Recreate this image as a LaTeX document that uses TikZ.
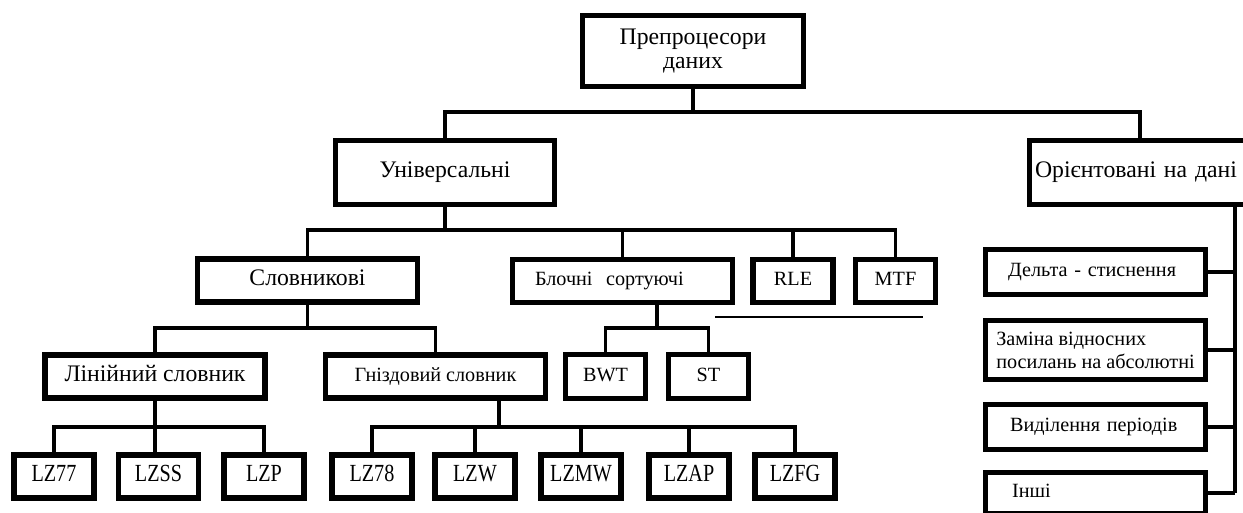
\documentclass[tikz,border=0pt]{standalone}
\usepackage{fontspec}
\setmainfont{Liberation Serif}
\newfontfamily\narrowserif{Liberation Serif}[FakeStretch=0.82]
\tikzset{
  frame/.style={draw, line width=3pt, fill=white, minimum width=4.4cm,
    minimum height=0.86cm, font=\fontsize{11.5}{13}\selectfont},
  block/.style={frame, text height=1.6ex, text depth=0.4ex},
  big/.style={font=\fontsize{13.5}{13.6}\selectfont},
  small/.style={block, minimum width=1.6cm},
  algo/.style={small, font=\narrowserif\fontsize{14}{15}\selectfont},
  side/.style={block, minimum height=0.9cm, text width=3.5cm, align=left},
  link/.style={line width=1.8pt},
  thinline/.style={line width=0.8pt},
}
\begin{document}
\begin{tikzpicture}[x=0.02cm, y=-0.02cm]
	\clip (0,0) rectangle (1243,513);
	
	\node[frame, big, align=center, minimum width=4.42cm, minimum height=1.42cm] (prep) at (693,51) {Препроцесори\\даних};
	\node[block, big, minimum width=4.38cm, minimum height=1.28cm] (univ) at (445,172.5) {Універсальні};
	\node[block, big, minimum width=4.42cm, minimum height=1.28cm, text width=4.2cm, align=left] (orient) at (1140,172.5) {Орієнтовані на дані};
	
	\node[block, big] (slov) at (307.5,280.5) {Словникові};
	\node[block, text width=3.5cm, align=left] (bloch) at (622.5,281) {Блочні\ \ сортуючі};
	\node[small] (rle) at (793,281) {RLE};
	\node[small] (mtf) at (895.5,281) {MTF};
	
	\node[block, big] (lin) at (155,376.5) {Лінійний словник};
	\node[block] (gniz) at (435.5,376.5) {Гніздовий словник};
	\node[small, minimum height=0.88cm] (bwt) at (605.5,376.5) {BWT};
	\node[small, minimum height=0.88cm] (st) at (708.5,376.5) {ST};
	
	\node[algo] (lz77) at (54,476.5) {LZ77};
	\node[algo] (lzss) at (158.5,476.5) {LZSS};
	\node[algo] (lzp) at (264,476.5) {LZP};
	\node[algo] (lz78) at (372,476.5) {LZ78};
	\node[algo] (lzw) at (475,476.5) {LZW};
	\node[algo] (lzmw) at (581,476.5) {LZMW};
	\node[algo] (lzap) at (689,476.5) {LZAP};
	\node[algo] (lzfg) at (795,476.5) {LZFG};
	
	\node[side] (delta) at (1095.5,272) {Дельта - стиснення};
	\node[frame, minimum height=1.18cm, align=left] (zamina) at (1095.5,350) {Заміна відносних\\посилань на абсолютні};
	\node[side, text width=3.42cm] (vydil) at (1095.5,427) {Виділення періодів};
	\node[side, minimum height=0.82cm, text width=3.34cm] (inshi) at (1095.5,493) {Інші};
	
	\coordinate (bus1) at (693,112);
	\coordinate (bus2) at (445,230);
	\coordinate (bus3) at (307.5,328);
	\coordinate (bus4) at (657,328);
	\coordinate (bus5) at (155,427);
	\coordinate (bus6) at (499,427);
	\coordinate (bus7) at (1235,493);
	\coordinate (u1) at (715,317);
	\coordinate (u2) at (923,317);
	
	\draw[link] (prep) -- (bus1);
	\draw[link] (univ) |- (bus1) -| (orient);
	\draw[link] (univ) -- (bus2);
	\draw[link] (slov) |- (bus2) -| (mtf);
	\foreach \n in {bloch, rle}
		\draw[link] (bus2 -| \n) -- (\n);
	\draw[link] (slov) -- (bus3);
	\draw[link] (lin) |- (bus3) -| (gniz);
	\draw[link] (bus4 |- bloch.south) -- (bus4);
	\draw[link] (bwt) |- (bus4) -| (st);
	\draw[link] (lin) -- (bus5);
	\draw[link] (lz77) |- (bus5) -| (lzp);
	\draw[link] (bus5) -- (bus5 |- lzss.north);
	\draw[link] (bus6 |- gniz.south) -- (bus6);
	\draw[link] (lz78) |- (bus6) -| (lzfg);
	\foreach \n in {lzw, lzmw, lzap}
		\draw[link] (bus6 -| \n) -- (\n);
	\draw[link] (bus7 |- orient.south) -- (bus7);
	\foreach \n in {delta, zamina, vydil, inshi}
		\draw[link] (\n) -- (\n -| bus7);
	\draw[thinline] (u1) -- (u2);
\end{tikzpicture}
\end{document}
